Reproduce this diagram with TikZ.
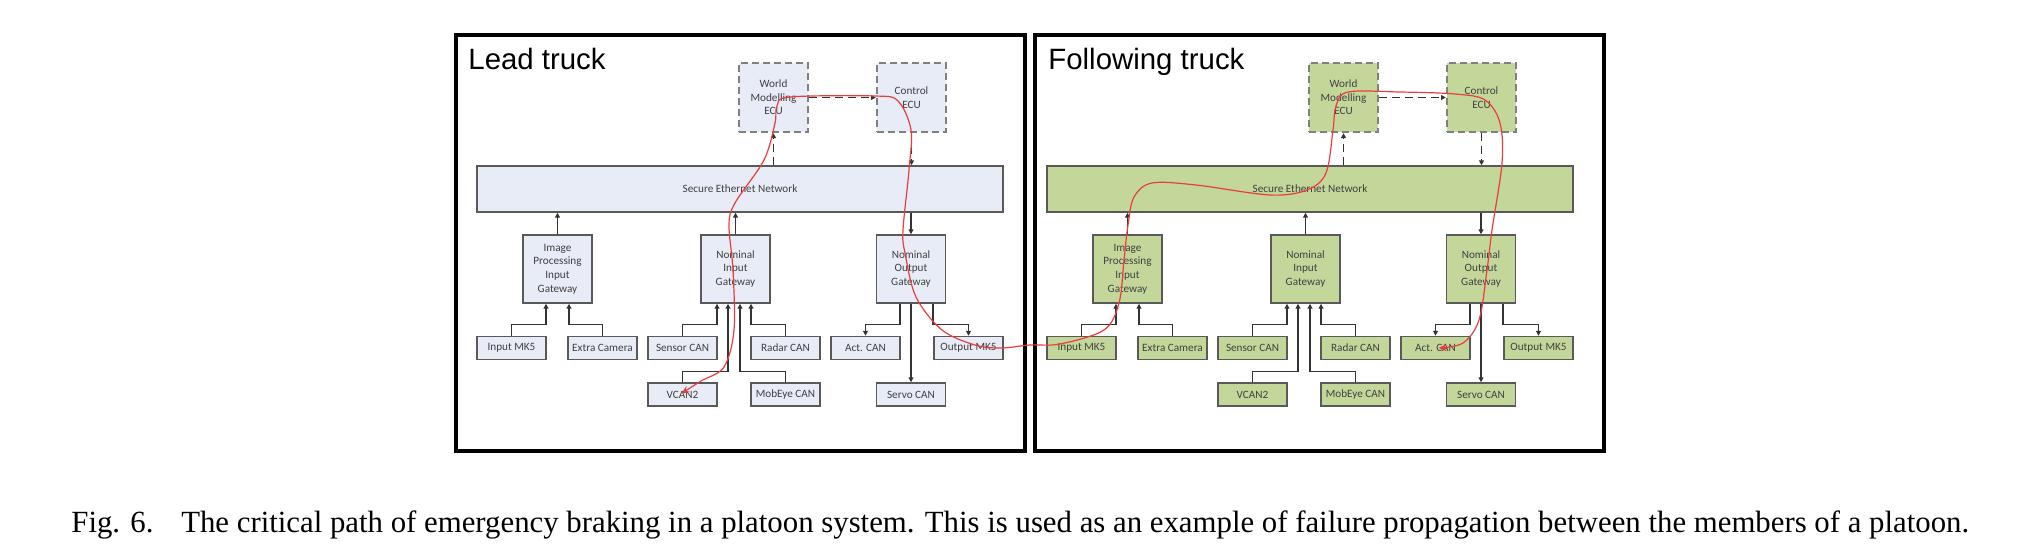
\documentclass[tikz,border=0pt]{standalone}
\usepackage{fontspec}
\setmainfont{Liberation Serif}
\newfontfamily\titlefamily{Liberation Sans}
\newfontfamily\boxfamily{Carlito}
\usetikzlibrary{arrows.meta}

\definecolor{leadfill}{RGB}{231,236,247}
\definecolor{followfill}{RGB}{196,215,155}
\definecolor{boxline}{RGB}{89,89,89}
\definecolor{critred}{RGB}{235,60,60}

% one truck: node prefix, fill colour
\newcommand{\truckpanel}[2]{%
  % ECUs and network
  \node[ecu, fill=#2] (#1wm) at (773.5,97.5) {World\\Modelling\\ECU};
  \node[ecu, fill=#2] (#1ctrl) at (911.5,97.5) {Control\\ECU};
  \node[box, fill=#2, minimum width=263pt, minimum height=23pt] (#1eth) at (740,189) {Secure Ethernet Network};
  % gateways
  \node[gate, fill=#2] (#1ipg) at (557.5,269) {Image\\Processing\\Input\\Gateway};
  \node[gate, fill=#2] (#1nig) at (735.5,269) {Nominal\\Input\\Gateway};
  \node[gate, fill=#2] (#1nog) at (911,269) {Nominal\\Output\\Gateway};
  % buses
  \node[can, fill=#2] (#1inmk) at (511.5,348) {Input MK5};
  \node[can, fill=#2] (#1cam) at (602.5,348) {Extra Camera};
  \node[can, fill=#2] (#1sens) at (682.5,348) {Sensor CAN};
  \node[can, fill=#2] (#1radar) at (785.5,348) {Radar CAN};
  \node[can, fill=#2] (#1act) at (865.5,348) {Act. CAN};
  \node[can, fill=#2] (#1outmk) at (968.5,348) {Output MK5};
  \node[can, fill=#2] (#1vcan) at (682.5,394.5) {VCAN2};
  \node[can, fill=#2] (#1mob) at (785.5,394.5) {MobEye CAN};
  \node[can, fill=#2] (#1servo) at (911,394.5) {Servo CAN};
  % links to the network
  \draw[dlink] (#1wm.south |- #1eth.north) -- (#1wm.south);
  \draw[dlink] (#1wm.east) -- (#1ctrl.west);
  \draw[dlink] (#1ctrl.south) -- (#1ctrl.south |- #1eth.north);
  \draw[link] (#1ipg.north) -- (#1ipg.north |- #1eth.south);
  \draw[link] (#1nig.north) -- (#1nig.north |- #1eth.south);
  \draw[link] (#1nog.north |- #1eth.south) -- (#1nog.north);
  % inputs
  \draw[link] (#1inmk.north) -- ++(0,-11) -| ([xshift=-5.75pt]#1ipg.south);
  \draw[link] (#1cam.north) -- ++(0,-11) -| ([xshift=5.75pt]#1ipg.south);
  \draw[link] (#1sens.north) -- ++(0,-11) -| ([xshift=-9.25pt]#1nig.south);
  \draw[link] (#1vcan.north) -- ++(0,-11) -| ([xshift=-3.75pt]#1nig.south);
  \draw[link] (#1mob.north) -- ++(0,-11) -| ([xshift=2.25pt]#1nig.south);
  \draw[link] (#1radar.north) -- ++(0,-11) -| ([xshift=7.75pt]#1nig.south);
  % outputs
  \draw[link] ([xshift=-5.5pt]#1nog.south) |- ([yshift=5.5pt]#1act.north) -- (#1act.north);
  \draw[link] (#1nog.south) -- (#1servo.north);
  \draw[link] ([xshift=11pt]#1nog.south) |- ([yshift=5.5pt]#1outmk.north) -- (#1outmk.north);
}

\begin{document}
\begin{tikzpicture}[
  x=0.5pt, y=-0.5pt,
  frame/.style={draw=black, line width=2pt},
  paneltitle/.style={anchor=base west, inner sep=0pt, font=\titlefamily\fontsize{14.7}{17}\selectfont},
  box/.style={draw=boxline, line width=0.75pt, text=black!75, align=center, inner sep=0pt,
    font=\boxfamily\fontsize{5.6}{6.8}\selectfont},
  gate/.style={box, minimum width=34.5pt, minimum height=34pt},
  can/.style={box, minimum width=34.5pt, minimum height=11.5pt},
  ecu/.style={box, draw=black!50, line width=1.2pt, dash pattern=on 3.5pt off 2pt,
    minimum width=34.5pt, minimum height=34.5pt},
  link/.style={draw=black!80, line width=0.6pt, -{Triangle[length=2.4pt,width=2.4pt]}},
  dlink/.style={link, dash pattern=on 4pt off 2.5pt},
  crit/.style={draw=critred, line width=0.6pt, {Stealth[length=4pt,width=3.5pt]}-{Stealth[length=4pt,width=3.5pt]}}
]
\useasboundingbox (0,0) rectangle (2030,557);

% truck frames and titles
\draw[frame] (456,35) rectangle (1025,451);
\draw[frame] (1035,35) rectangle (1604,451);
\node[paneltitle] (leadtitle) at (468,69) {Lead truck};
\node[paneltitle] (followtitle) at (1048,69) {Following truck};

\truckpanel{L}{leadfill}
\begin{scope}[xshift=285pt]
  \truckpanel{F}{followfill}
\end{scope}

% critical path of the braking signal
\draw[crit] plot[smooth, tension=0.55] coordinates {
  ([xshift=-0.5pt,yshift=0.5pt]Lvcan.center) (701,381) (724,367) (734,330) (733,270) (729,225)
  (735,203) (764,160) (775,123) (777,106) (790,97) (875,96) (898,101) (911,130)
  (909,170) (903,230) (905,253) (916,297) (942,330) (975,345) (1001,348)
  (1030,345) (1060,344) (1104,330) (1119,303) (1124,260) (1128,225) (1134,197)
  (1152,183) (1196,185) (1270,195) (1307,190) (1326,173) (1333,130) (1336,106)
  (1348,92) (1400,92) (1455,94) (1485,100) (1500,123) (1502,163) (1492,230)
  (1487,270) (1479,320) (1463,343) ([xshift=1.5pt]Fact.center)};

\node[anchor=base west, inner sep=0pt, font=\fontsize{15.4}{18}\selectfont] (caption) at (71,532)
  {Fig. 6.\hspace{0.9em}The critical path of emergency braking in a platoon system. This is used as an example of failure propagation between the members of a platoon.};
\end{tikzpicture}
\end{document}
